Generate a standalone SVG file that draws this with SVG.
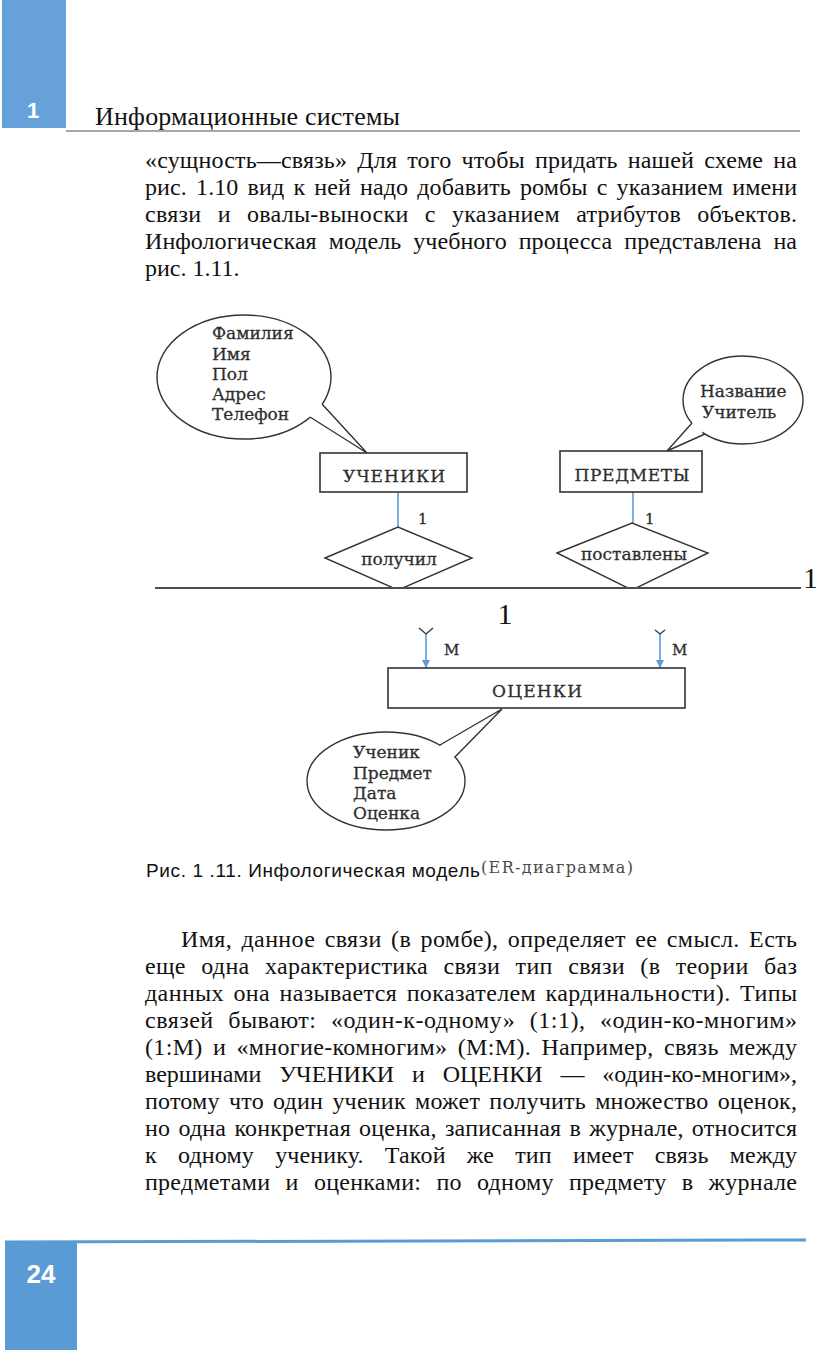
<svg xmlns="http://www.w3.org/2000/svg" width="816" height="1354" viewBox="0 0 816 1354">
<style>
.p{font-family:"Liberation Serif","Times New Roman",serif;font-size:24px;fill:#111}
.hd{font-family:"Liberation Serif","Times New Roman",serif;font-size:26px;fill:#111}
.d{font-family:"DejaVu Serif","Liberation Serif",serif;font-size:17px;fill:#2e2e2e;stroke:#2e2e2e;stroke-width:0.3}
.box{fill:#fff;stroke:#333;stroke-width:1.6}
.shape{fill:#fff;stroke:#333;stroke-width:1.4}
.tail{fill:none;stroke:#333;stroke-width:1.4;stroke-linejoin:miter}
.blue{stroke:#5b9bd5;stroke-width:1.6;fill:none}
.fork{stroke:#333;stroke-width:1.3;fill:none}
.num{font-family:"Liberation Sans",Arial,sans-serif;font-weight:bold;fill:#fff}
</style>
<defs>
<marker id="arr" viewBox="0 0 10 10" refX="10" refY="5" markerWidth="8" markerHeight="12" markerUnits="userSpaceOnUse" orient="auto">
<path d="M0,0 L10,5 L0,10 z" fill="#5b9bd5"/>
</marker>
<clipPath id="cut"><rect x="0" y="0" width="816" height="587"/></clipPath>
</defs>
<rect width="816" height="1354" fill="#fff"/>

<!-- header -->
<g id="header">
<rect x="2" y="0" width="64" height="128" fill="#66a2d9"/>
<text class="num" x="33" y="118" style="font-size:22px" text-anchor="middle">1</text>
<line x1="66" y1="131" x2="800" y2="131" stroke="#8a8a8a" stroke-width="1.5"/>
<text class="hd" x="95" y="125" textLength="305" lengthAdjust="spacing">Информационные системы</text>
</g>

<!-- paragraph 1 -->
<g id="para1">
<text class="p" x="145" y="168" style="word-spacing:4px" textLength="652" lengthAdjust="spacing">«сущность—связь» Для того чтобы придать нашей схеме на</text>
<text class="p" x="145" y="195" style="word-spacing:3px" textLength="652" lengthAdjust="spacing">рис. 1.10 вид к ней надо добавить ромбы с указанием имени</text>
<text class="p" x="145" y="222" style="word-spacing:10px" textLength="652" lengthAdjust="spacing">связи и овалы-выноски с указанием атрибутов объектов.</text>
<text class="p" x="145" y="249" style="word-spacing:6px" textLength="652" lengthAdjust="spacing">Инфологическая модель учебного процесса представлена на</text>
<text class="p" x="145" y="276">рис. 1.11.</text>
</g>

<!-- connectors -->
<g id="connectors">
<line class="blue" x1="398" y1="493" x2="398" y2="527"/>
<line class="blue" x1="633" y1="492" x2="633" y2="523"/>
<line class="blue" x1="426" y1="634" x2="426" y2="668" marker-end="url(#arr)"/>
<line class="blue" x1="660" y1="634" x2="660" y2="668" marker-end="url(#arr)"/>
<path class="fork" d="M419,628 L426,634 L433,628"/>
<path class="fork" d="M655,630 L660,634 L665,630"/>
<text class="d" x="418" y="524" style="font-size:15px">1</text>
<text class="d" x="645" y="524" style="font-size:15px">1</text>
<text class="d" x="444" y="655" style="font-size:15px">М</text>
<text class="d" x="672" y="655" style="font-size:15px">М</text>
</g>

<!-- attribute callout: УЧЕНИКИ -->
<g id="attr-ucheniki">
<ellipse class="shape" cx="244" cy="377" rx="87" ry="62"/>
<polygon points="320,402 367,453 307,415" fill="#fff"/>
<polyline class="tail" points="322,404 367,453 310,417"/>
<text class="d" x="212" y="339">Фамилия</text>
<text class="d" x="212" y="360">Имя</text>
<text class="d" x="212" y="380">Пол</text>
<text class="d" x="212" y="400">Адрес</text>
<text class="d" x="212" y="420">Телефон</text>
</g>

<!-- entity УЧЕНИКИ -->
<g id="node-ucheniki">
<rect class="box" x="320" y="453" width="147" height="39"/>
<text class="d" x="394" y="482" text-anchor="middle" textLength="102" lengthAdjust="spacing">УЧЕНИКИ</text>
</g>

<!-- attribute callout: ПРЕДМЕТЫ -->
<g id="attr-predmety">
<ellipse class="shape" cx="743" cy="400" rx="60" ry="44"/>
<polygon points="694,421 667,451 703,432" fill="#fff"/>
<polyline class="tail" points="692,423 667,451 705,434"/>
<text class="d" x="700" y="397">Название</text>
<text class="d" x="702" y="418">Учитель</text>
</g>

<!-- entity ПРЕДМЕТЫ -->
<g id="node-predmety">
<rect class="box" x="560" y="451" width="142" height="41"/>
<text class="d" x="632" y="481" text-anchor="middle" textLength="115" lengthAdjust="spacing">ПРЕДМЕТЫ</text>
</g>

<!-- relationship получил -->
<g id="rel-poluchil" clip-path="url(#cut)">
<polygon class="shape" points="325,558 398,527 472,558 398,590"/>
<text class="d" x="399" y="565" text-anchor="middle">получил</text>
</g>

<!-- relationship поставлены -->
<g id="rel-postavleny" clip-path="url(#cut)">
<polygon class="shape" points="557,553 632,523 708,553 632,590"/>
<text class="d" x="634" y="560" text-anchor="middle">поставлены</text>
</g>

<!-- page break line and stray numerals -->
<g id="break">
<line x1="155" y1="588" x2="801" y2="588" stroke="#111" stroke-width="1.5"/>
<text class="p" x="803" y="588" style="font-size:30px">1</text>
<text class="p" x="505" y="624" style="font-size:30px" text-anchor="middle">1</text>
</g>

<!-- entity ОЦЕНКИ -->
<g id="node-ocenki">
<rect class="box" x="388" y="668" width="297" height="40"/>
<text class="d" x="537" y="697" text-anchor="middle" textLength="90" lengthAdjust="spacing">ОЦЕНКИ</text>
</g>

<!-- attribute callout: ОЦЕНКИ -->
<g id="attr-ocenki">
<ellipse class="shape" cx="386" cy="781" rx="79" ry="49"/>
<polygon points="438,747 502,709 452,759" fill="#fff"/>
<polyline class="tail" points="440,745 502,709 455,757"/>
<text class="d" x="353" y="758">Ученик</text>
<text class="d" x="353" y="779">Предмет</text>
<text class="d" x="353" y="799">Дата</text>
<text class="d" x="353" y="819">Оценка</text>
</g>

<!-- caption -->
<g id="caption">
<text x="146" y="877" font-family="Liberation Sans, Arial, sans-serif" font-size="19" fill="#111" textLength="334" lengthAdjust="spacing">Рис. 1 .11. Инфологическая модель</text>
<text x="481" y="873" font-family="DejaVu Serif, Liberation Serif, serif" font-size="16" fill="#4a4a4a" textLength="152" lengthAdjust="spacing">(ER-диаграмма)</text>
</g>

<!-- paragraph 2 -->
<g id="para2">
<text class="p" x="181" y="947" style="word-spacing:3px" textLength="616" lengthAdjust="spacing">Имя, данное связи (в ромбе), определяет ее смысл. Есть</text>
<text class="p" x="145" y="974" style="word-spacing:9px" textLength="652" lengthAdjust="spacing">еще одна характеристика связи тип связи (в теории баз</text>
<text class="p" x="145" y="1001" style="word-spacing:3px" textLength="652" lengthAdjust="spacing">данных она называется показателем кардинальности). Типы</text>
<text class="p" x="145" y="1028" style="word-spacing:8px" textLength="652" lengthAdjust="spacing">связей бывают: «один-к-одному» (1:1), «один-ко-многим»</text>
<text class="p" x="145" y="1055" style="word-spacing:4px" textLength="652" lengthAdjust="spacing">(1:М) и «многие-комногим» (М:М). Например, связь между</text>
<text class="p" x="145" y="1082" style="word-spacing:12px" textLength="652" lengthAdjust="spacing">вершинами УЧЕНИКИ и ОЦЕНКИ — «один-ко-многим»,</text>
<text class="p" x="145" y="1109" style="word-spacing:3px" textLength="652" lengthAdjust="spacing">потому что один ученик может получить множество оценок,</text>
<text class="p" x="145" y="1136" style="word-spacing:2px" textLength="652" lengthAdjust="spacing">но одна конкретная оценка, записанная в журнале, относится</text>
<text class="p" x="145" y="1163" style="word-spacing:15px" textLength="652" lengthAdjust="spacing">к одному ученику. Такой же тип имеет связь между</text>
<text class="p" x="145" y="1190" style="word-spacing:9px" textLength="652" lengthAdjust="spacing">предметами и оценками: по одному предмету в журнале</text>
</g>

<!-- footer -->
<g id="footer">
<line x1="5" y1="1242" x2="806" y2="1240" stroke="#5b9bd5" stroke-width="3"/>
<rect x="5" y="1243" width="72" height="107" fill="#5b9bd5"/>
<text class="num" x="41" y="1283" style="font-size:26px" text-anchor="middle">24</text>
</g>
</svg>
